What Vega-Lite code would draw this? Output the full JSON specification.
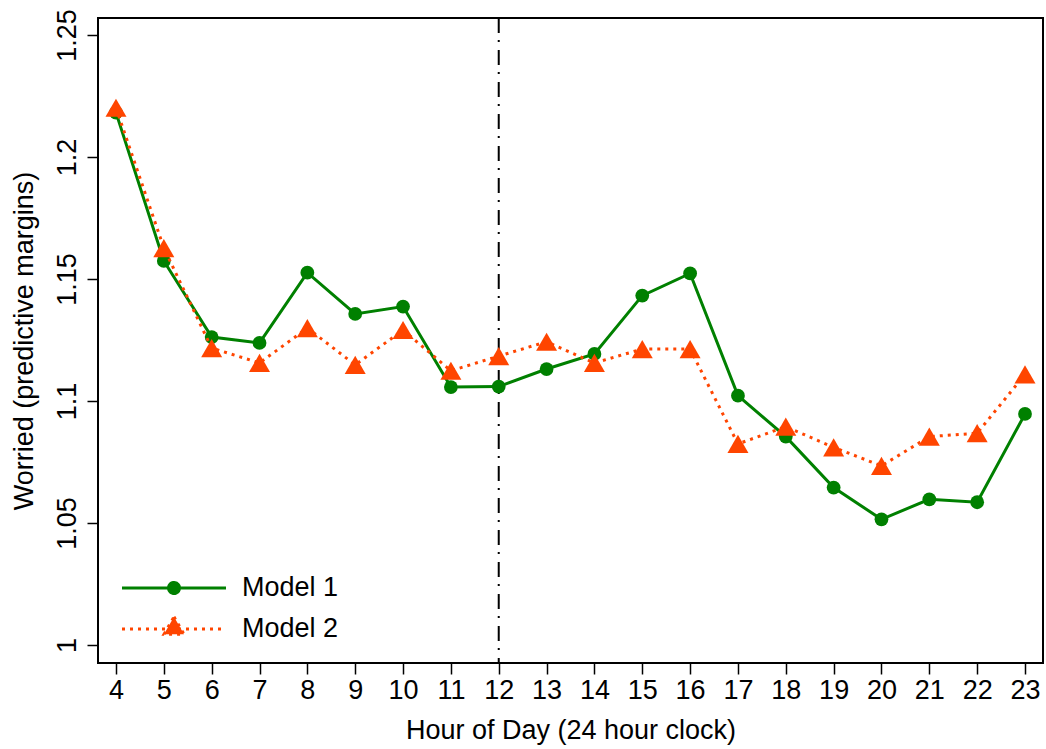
{
  "$schema": "https://vega.github.io/schema/vega-lite/v6.json",
  "autosize": {"type": "none"},
  "padding": {"left": 98, "top": 18, "right": 3, "bottom": 86},
  "width": 945,
  "height": 645,
  "background": "white",
  "config": {
    "font": "Liberation Sans",
    "view": {"stroke": "#000000", "strokeWidth": 2},
    "axis": {
      "grid": false,
      "domain": false,
      "tickColor": "#000000",
      "tickWidth": 1.5,
      "tickSize": 11,
      "labelColor": "#000000",
      "labelFontSize": 27,
      "labelFont": "Liberation Sans",
      "titleFont": "Liberation Sans",
      "titleFontSize": 27,
      "titleFontWeight": "normal",
      "titleColor": "#000000"
    }
  },
  "datasets": {
    "margins": [
      {"hour": 4, "model": "Model 1", "value": 1.2182},
      {"hour": 5, "model": "Model 1", "value": 1.1574},
      {"hour": 6, "model": "Model 1", "value": 1.1262},
      {"hour": 7, "model": "Model 1", "value": 1.1238},
      {"hour": 8, "model": "Model 1", "value": 1.1526},
      {"hour": 9, "model": "Model 1", "value": 1.1357},
      {"hour": 10, "model": "Model 1", "value": 1.1387},
      {"hour": 11, "model": "Model 1", "value": 1.1057},
      {"hour": 12, "model": "Model 1", "value": 1.1059},
      {"hour": 13, "model": "Model 1", "value": 1.1131},
      {"hour": 14, "model": "Model 1", "value": 1.1193},
      {"hour": 15, "model": "Model 1", "value": 1.1432},
      {"hour": 16, "model": "Model 1", "value": 1.1523},
      {"hour": 17, "model": "Model 1", "value": 1.1022},
      {"hour": 18, "model": "Model 1", "value": 1.0854},
      {"hour": 19, "model": "Model 1", "value": 1.0645},
      {"hour": 20, "model": "Model 1", "value": 1.0515},
      {"hour": 21, "model": "Model 1", "value": 1.0597},
      {"hour": 22, "model": "Model 1", "value": 1.0585},
      {"hour": 23, "model": "Model 1", "value": 1.0947},
      {"hour": 4, "model": "Model 2", "value": 1.2202},
      {"hour": 5, "model": "Model 2", "value": 1.1627},
      {"hour": 6, "model": "Model 2", "value": 1.1217},
      {"hour": 7, "model": "Model 2", "value": 1.1156},
      {"hour": 8, "model": "Model 2", "value": 1.1299},
      {"hour": 9, "model": "Model 2", "value": 1.1148},
      {"hour": 10, "model": "Model 2", "value": 1.1291},
      {"hour": 11, "model": "Model 2", "value": 1.1124},
      {"hour": 12, "model": "Model 2", "value": 1.1184},
      {"hour": 13, "model": "Model 2", "value": 1.1243},
      {"hour": 14, "model": "Model 2", "value": 1.1156},
      {"hour": 15, "model": "Model 2", "value": 1.1213},
      {"hour": 16, "model": "Model 2", "value": 1.1213},
      {"hour": 17, "model": "Model 2", "value": 1.0824},
      {"hour": 18, "model": "Model 2", "value": 1.0895},
      {"hour": 19, "model": "Model 2", "value": 1.0810},
      {"hour": 20, "model": "Model 2", "value": 1.0734},
      {"hour": 21, "model": "Model 2", "value": 1.0854},
      {"hour": 22, "model": "Model 2", "value": 1.0868},
      {"hour": 23, "model": "Model 2", "value": 1.1109}
    ],
    "refline": [{"hour": 12}]
  },
  "encoding": {
    "x": {
      "field": "hour",
      "type": "quantitative",
      "scale": {"domain": [3.624, 23.376], "nice": false, "zero": false},
      "axis": {
        "values": [4,5,6,7,8,9,10,11,12,13,14,15,16,17,18,19,20,21,22,23],
        "format": "d",
        "labelPadding": 3,
        "labelBaseline": "top",
        "title": "Hour of Day (24 hour clock)",
        "titleX": 472.5,
        "titleY": 75,
        "titleBaseline": "alphabetic",
        "titleAlign": "center"
      }
    }
  },
  "layer": [
    {
      "data": {"name": "refline"},
      "mark": {"type": "rule", "color": "#000000", "strokeWidth": 2, "strokeDash": [15, 7, 2, 8]},
      "encoding": {}
    },
    {
      "data": {"name": "margins"},
      "transform": [{"filter": "datum.model === 'Model 1'"}],
      "mark": {"type": "line", "strokeWidth": 3, "strokeCap": "butt"},
      "encoding": {
        "y": {
          "field": "value",
          "type": "quantitative",
          "scale": {"domain": [0.9926, 1.257], "nice": false, "zero": false},
          "axis": {
            "values": [1, 1.05, 1.1, 1.15, 1.2, 1.25],
            "format": "~g",
            "labelAngle": -90,
            "labelAlign": "center",
            "labelBaseline": "alphabetic",
            "labelPadding": 12,
            "title": "Worried (predictive margins)",
            "titleAngle": -90,
            "titleX": -66,
            "titleY": 322.5,
            "titleAlign": "center",
            "titleBaseline": "alphabetic"
          }
        },
        "color": {
          "field": "model",
          "type": "nominal",
          "scale": {"domain": ["Model 1", "Model 2"], "range": ["#008000", "#FF4500"]},
          "legend": {
            "title": null,
            "orient": "none",
            "legendX": 62.5,
            "legendY": 556.5,
            "padding": 0,
            "symbolSize": 400,
            "symbolStrokeWidth": 3,
            "labelFontSize": 27,
            "labelColor": "#000000",
            "labelFont": "Liberation Sans",
            "labelOffset": 54.5,
            "rowPadding": 9,
            "encode": {
              "symbols": {
                "update": {
                  "shape": {"signal": "datum.value === 'Model 1' ? 'M-5.2,0H5.2M0.55,0A0.55,0.55 0 1,1 -0.55,0A0.55,0.55 0 1,1 0.55,0Z' : 'M-5.2,0H5.2M0,-1.22L1.0,0.52L-1.0,0.52Z'"},
                  "fill": {"signal": "datum.value === 'Model 1' ? '#008000' : '#FF4500'"},
                  "stroke": {"signal": "datum.value === 'Model 1' ? '#008000' : '#FF4500'"},
                  "strokeDash": {"signal": "datum.value === 'Model 1' ? [1, 0] : [3, 5]"},
                  "strokeWidth": {"value": 3},
                  "opacity": {"value": 1},
                  "fillOpacity": {"value": 1}
                }
              }
            }
          }
        }
      }
    },
    {
      "data": {"name": "margins"},
      "transform": [{"filter": "datum.model === 'Model 1'"}],
      "mark": {"type": "point", "shape": "circle", "filled": true, "size": 190, "opacity": 1, "strokeWidth": 0},
      "encoding": {
        "y": {"field": "value", "type": "quantitative"},
        "color": {"field": "model", "type": "nominal"}
      }
    },
    {
      "data": {"name": "margins"},
      "transform": [{"filter": "datum.model === 'Model 2'"}],
      "mark": {"type": "line", "strokeWidth": 3, "strokeCap": "butt", "strokeDash": [3, 5]},
      "encoding": {
        "y": {"field": "value", "type": "quantitative"},
        "color": {"field": "model", "type": "nominal"}
      }
    },
    {
      "data": {"name": "margins"},
      "transform": [{"filter": "datum.model === 'Model 2'"}],
      "mark": {"type": "point", "shape": "triangle-up", "filled": true, "size": 441, "opacity": 1, "strokeWidth": 0},
      "encoding": {
        "y": {"field": "value", "type": "quantitative"},
        "color": {"field": "model", "type": "nominal"}
      }
    }
  ]
}
